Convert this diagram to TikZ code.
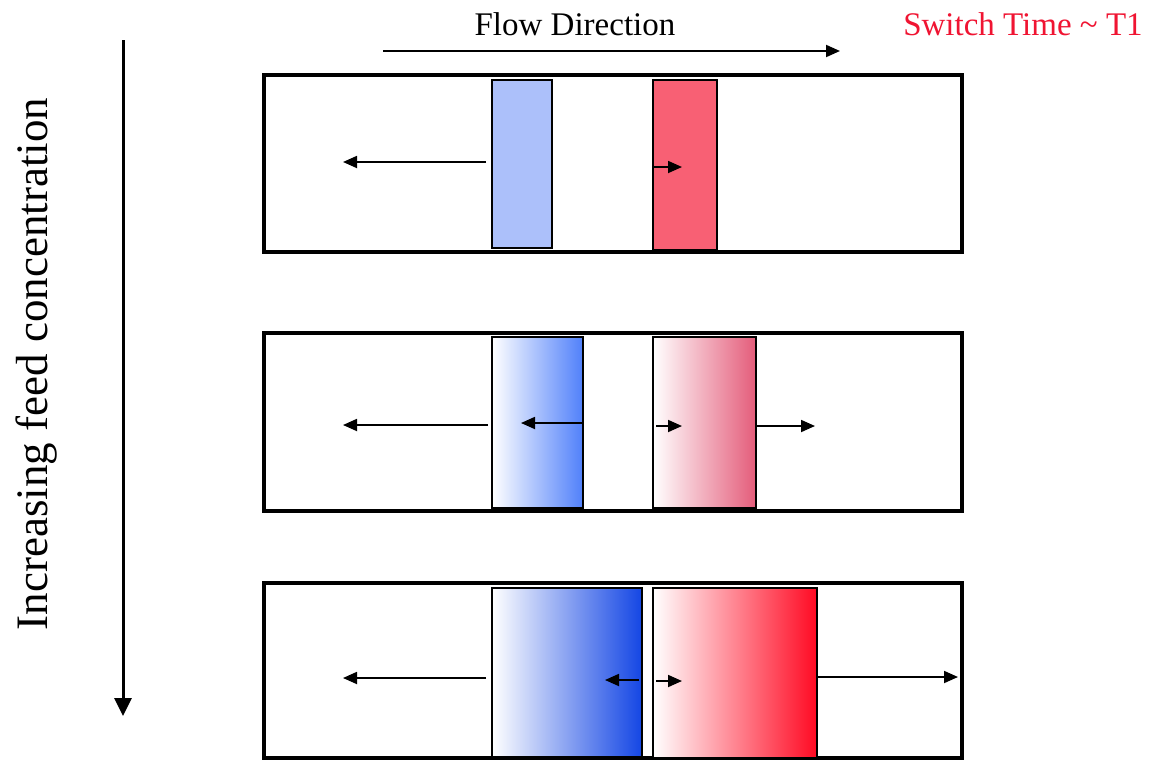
\documentclass[tikz,border=0pt]{standalone}
\usepackage{fontspec}
\setmainfont{Liberation Serif}
\usetikzlibrary{arrows.meta}
\definecolor{bluetop}{RGB}{172,192,250}
\definecolor{redtop}{RGB}{248,96,116}
\definecolor{bluemid}{RGB}{80,128,250}
\definecolor{redmid}{RGB}{228,92,122}
\definecolor{bluebot}{RGB}{20,70,228}
\definecolor{redbot}{RGB}{255,10,35}
\definecolor{swred}{RGB}{240,20,50}
\tikzset{
  column/.style={draw=black, line width=4pt, fill=white},
  band/.style={draw=black, line width=1.8pt},
  flowarrow/.style={line width=1.8pt, -{Triangle[length=14pt,width=12pt]}},
  lbl/.style={font=\fontsize{33}{38}\selectfont, inner sep=0pt, anchor=center}
}
\begin{document}
\begin{tikzpicture}[x=1pt,y=-1pt]
\useasboundingbox (0,0) rectangle (1152,761);
\fill[white] (0,0) rectangle (1152,761);
% titles
\node[lbl] (flowtxt) at (575,24) {Flow Direction};
\node[lbl, text=swred] (swtxt) at (1023,24) {Switch Time \textasciitilde{} T1};
\coordinate (fa) at (383,51);
\coordinate (fb) at (840,51);
\draw[flowarrow, line width=2pt] (fa) -- (fb);
% vertical arrow
\coordinate (va) at (123,40);
\coordinate (vb) at (123,716);
\draw[line width=3pt, -{Triangle[length=18pt,width=17pt]}] (va) -- (vb);
\node[font=\fontsize{45}{50}\selectfont, rotate=90, inner sep=0pt] (inc) at (37,364) {Increasing feed concentration};
% columns
\draw[column] (264,75) rectangle (962,252);
\draw[column] (264,333) rectangle (962,511);
\draw[column] (264,583) rectangle (962,758);
% row 1
\draw[band, fill=bluetop] (492,80) rectangle (552,248);
\draw[band, fill=redtop] (653,80) rectangle (717,250);
\coordinate (a1s) at (486,162); \coordinate (a1e) at (343,162);
\draw[flowarrow] (a1s) -- (a1e);
\coordinate (b1s) at (654,167); \coordinate (b1e) at (682,167);
\draw[flowarrow] (b1s) -- (b1e);
% row 2
\draw[band, left color=white, right color=bluemid] (492,337) rectangle (583,508);
\draw[band, left color=white, right color=redmid] (653,337) rectangle (756,508);
\coordinate (a2s) at (488,425); \coordinate (a2e) at (343,425);
\draw[flowarrow] (a2s) -- (a2e);
\coordinate (c2s) at (582,423); \coordinate (c2e) at (521,423);
\draw[flowarrow] (c2s) -- (c2e);
\coordinate (b2s) at (656,426); \coordinate (b2e) at (682,426);
\draw[flowarrow] (b2s) -- (b2e);
\coordinate (d2s) at (756,426); \coordinate (d2e) at (815,426);
\draw[flowarrow] (d2s) -- (d2e);
% row 3
\draw[band, left color=white, right color=bluebot] (492,588) rectangle (642,757);
\draw[band, left color=white, right color=redbot] (653,588) rectangle (817,758);
\coordinate (a3s) at (486,678); \coordinate (a3e) at (343,678);
\draw[flowarrow] (a3s) -- (a3e);
\coordinate (c3s) at (639,680); \coordinate (c3e) at (605,680);
\draw[flowarrow] (c3s) -- (c3e);
\coordinate (b3s) at (656,681); \coordinate (b3e) at (682,681);
\draw[flowarrow] (b3s) -- (b3e);
\coordinate (d3s) at (817,677); \coordinate (d3e) at (958,677);
\draw[flowarrow] (d3s) -- (d3e);
\end{tikzpicture}
\end{document}
